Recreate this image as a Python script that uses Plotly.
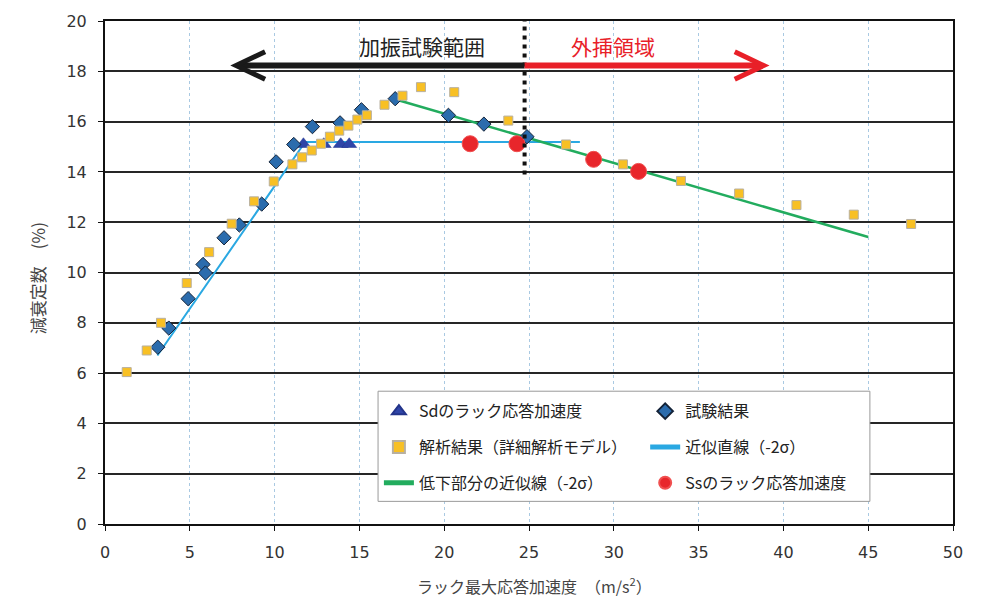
import plotly.graph_objects as go

# --- data -----------------------------------------------------------------
# Sdのラック応答加速度
sd_x = [11.7, 12.9, 13.9, 14.4]
sd_y = [15.1, 15.1, 15.1, 15.1]

# 試験結果
test_x = [3.11, 3.76, 4.90, 5.78, 5.92, 7.02, 7.92, 9.24, 10.09, 11.13,
          12.23, 13.86, 15.12, 17.11, 20.25, 22.34, 24.88]
test_y = [7.03, 7.79, 8.96, 10.32, 9.98, 11.38, 11.89, 12.72, 14.40, 15.09,
          15.80, 15.95, 16.47, 16.91, 16.25, 15.90, 15.40]

# 解析結果（詳細解析モデル）
ana_x = [1.28, 2.46, 3.30, 4.82, 6.14, 7.47, 8.79, 9.95, 11.05, 11.62,
         12.19, 12.74, 13.26, 13.81, 14.35, 14.88, 15.44, 16.48, 17.54, 18.63,
         20.59, 23.78, 27.18, 30.54, 33.96, 37.39, 40.77, 44.15, 47.53]
ana_y = [6.04, 6.90, 8.00, 9.58, 10.81, 11.94, 12.83, 13.62, 14.30, 14.58,
         14.85, 15.12, 15.40, 15.64, 15.84, 16.08, 16.25, 16.67, 17.03, 17.37,
         17.17, 16.04, 15.09, 14.30, 13.64, 13.14, 12.68, 12.30, 11.93]

# 近似直線（-2σ）
fit_x = [3.09, 11.8, 28.0]
fit_y = [6.70, 15.19, 15.19]

# 低下部分の近似線（-2σ）
dec_x = [17.2, 45.0]
dec_y = [16.87, 11.41]

# Ssのラック応答加速度
ss_x = [21.53, 24.29, 28.81, 31.46]
ss_y = [15.12, 15.12, 14.50, 14.02]

# axis ticks
x_ticks = [0, 5, 10, 15, 20, 25, 30, 35, 40, 45, 50]
y_ticks = [0, 2, 4, 6, 8, 10, 12, 14, 16, 18, 20]

# boundary between test range and extrapolation
TEST_LIMIT = 24.74
ARROW_Y = 18.23
LEFT_TIP = 7.73
RIGHT_TIP = 38.84

JP = "Noto Sans CJK JP"

fig = go.Figure()

fig.add_trace(go.Scatter(
    x=fit_x, y=fit_y, mode="lines", name="近似直線（-2σ）",
    line=dict(color="#2aa8e2", width=2), legend="legend2", legendrank=2,
    legendgroup="fit"))
fig.add_trace(go.Scatter(
    x=dec_x, y=dec_y, mode="lines", name="低下部分の近似線（-2σ）",
    line=dict(color="#22ac5e", width=2.5), legend="legend", legendrank=3,
    legendgroup="dec"))
fig.add_trace(go.Scatter(
    x=sd_x, y=sd_y, mode="markers", name="Sdのラック応答加速度",
    marker=dict(symbol="triangle-up", size=13, color="#2f45a8",
                line=dict(color="#23348a", width=0.5)),
    legend="legend", legendrank=1, legendgroup="sd"))
fig.add_trace(go.Scatter(
    x=test_x, y=test_y, mode="markers", name="試験結果",
    marker=dict(symbol="diamond", size=11, color="#2b6cad",
                line=dict(color="#142338", width=1)),
    legend="legend2", legendrank=1, legendgroup="test"))
fig.add_trace(go.Scatter(
    x=ana_x, y=ana_y, mode="markers", name="解析結果（詳細解析モデル）",
    marker=dict(symbol="square", size=9, color="#f8c024",
                line=dict(color="#b8b0a0", width=1)),
    legend="legend", legendrank=2, legendgroup="ana"))
fig.add_trace(go.Scatter(
    x=ss_x, y=ss_y, mode="markers", name="Ssのラック応答加速度",
    marker=dict(symbol="circle", size=16, color="#e8262b",
                line=dict(color="#f05050", width=1)),
    legend="legend2", legendrank=3, legendgroup="ss"))

# range boundary (dotted) and arrows
fig.add_shape(type="line", x0=TEST_LIMIT, x1=TEST_LIMIT, y0=13.9, y1=20,
              line=dict(color="#111111", width=4, dash="4px,5px"))
fig.add_shape(type="line", x0=TEST_LIMIT, x1=LEFT_TIP + 0.2, y0=ARROW_Y, y1=ARROW_Y,
              line=dict(color="#1a1a1a", width=6))
fig.add_shape(type="path",
              path=f"M {LEFT_TIP + 1.71},{ARROW_Y + 0.55} L {LEFT_TIP},{ARROW_Y} L {LEFT_TIP + 1.71},{ARROW_Y - 0.55}",
              line=dict(color="#1a1a1a", width=5))
fig.add_shape(type="line", x0=TEST_LIMIT, x1=RIGHT_TIP - 0.2, y0=ARROW_Y, y1=ARROW_Y,
              line=dict(color="#e82028", width=6))
fig.add_shape(type="path",
              path=f"M {RIGHT_TIP - 1.71},{ARROW_Y + 0.55} L {RIGHT_TIP},{ARROW_Y} L {RIGHT_TIP - 1.71},{ARROW_Y - 0.55}",
              line=dict(color="#e82028", width=5))

fig.add_annotation(x=18.7, y=19.0, text="加振試験範囲", showarrow=False,
                   font=dict(family=JP, size=21, color="#222222"))
fig.add_annotation(x=29.95, y=19.0, text="外挿領域", showarrow=False,
                   font=dict(family=JP, size=21, color="#e82028"))

# legend frame
fig.add_shape(type="rect", xref="paper", yref="paper",
              x0=0.322, x1=0.902, y0=0.045, y1=0.264,
              fillcolor="white", line=dict(color="#9a9a9a", width=1), layer="above")

# axis titles
fig.add_annotation(xref="paper", yref="paper", x=-0.097, y=0.489,
                   text="減衰定数　(%)", textangle=-90, showarrow=False,
                   font=dict(family=JP, size=17, color="#444444"))
fig.add_annotation(xref="paper", yref="paper", x=0.506, y=-0.152,
                   text="ラック最大応答加速度　（m/s<sup>2</sup>）", showarrow=False,
                   font=dict(family=JP, size=16, color="#444444"))

legend_common = dict(
    xanchor="left", yanchor="top", bgcolor="rgba(0,0,0,0)",
    font=dict(family=JP, size=16, color="#222222"),
    itemsizing="constant", tracegroupgap=12, orientation="v",
)

fig.update_layout(
    width=981, height=600,
    margin=dict(l=105, r=28, t=17, b=76),
    paper_bgcolor="white", plot_bgcolor="white",
    showlegend=True,
    legend=dict(x=0.323, y=0.258, **legend_common),
    legend2=dict(x=0.637, y=0.258, **legend_common),
    xaxis=dict(
        range=[0, 50], tickvals=x_ticks, showgrid=True,
        gridcolor="#a9c9e2", griddash="dot", gridwidth=1,
        showline=True, linecolor="#111111", linewidth=2, mirror=True,
        ticks="outside", ticklen=5, tickcolor="#111111", ticklabelstandoff=8,
        zeroline=False,
        tickfont=dict(family="DejaVu Sans", size=16, color="#333333"),
    ),
    yaxis=dict(
        range=[0, 20], tickvals=y_ticks, showgrid=True,
        gridcolor="#262626", gridwidth=1.5,
        showline=True, linecolor="#111111", linewidth=2, mirror=True,
        ticks="outside", ticklen=5, tickcolor="#111111", ticklabelstandoff=8,
        zeroline=False,
        tickfont=dict(family="DejaVu Sans", size=16, color="#333333"),
    ),
)

fig.write_html("out.html")
